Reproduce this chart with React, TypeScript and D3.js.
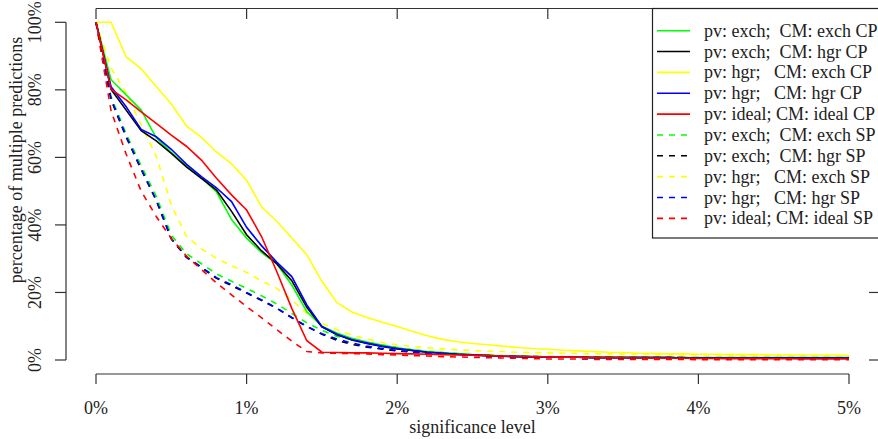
import React from 'react';
import * as d3 from 'd3';

// significance levels, in percent (0.1% steps)
const levels = d3.range(0, 51).map((i) => i / 10);

const exchExchCP = [100, 83, 78.5, 74, 65.8, 61.5, 57.5, 54, 49.8, 41.6, 36.1, 31.8, 28.5, 22.2, 14.3, 10, 8, 6.4, 5.3, 4.4, 3.6, 3.0, 2.5, 2.2, 1.9, 1.6, 1.4, 1.2, 1.1, 1.0, 0.9, 0.9, 0.8, 0.8, 0.8, 0.8, 0.8, 0.7, 0.7, 0.7, 0.7, 0.7, 0.7, 0.7, 0.7, 0.7, 0.7, 0.7, 0.7, 0.7, 0.7];
const exchHgrCP = [100, 80.1, 74, 67.9, 64.9, 61.2, 57.2, 53.8, 50.3, 44, 37.1, 32.3, 28.5, 23.5, 15.6, 9.8, 7.5, 5.9, 4.9, 4.0, 3.3, 2.8, 2.3, 2.0, 1.7, 1.5, 1.3, 1.1, 1.0, 0.9, 0.8, 0.8, 0.8, 0.7, 0.7, 0.7, 0.7, 0.7, 0.7, 0.6, 0.6, 0.6, 0.6, 0.6, 0.6, 0.6, 0.6, 0.6, 0.6, 0.6, 0.6];
const hgrExchCP = [100, 100, 89.8, 86.2, 81, 75.8, 69.3, 65.9, 61.6, 58.1, 53.2, 45.3, 41.1, 36.1, 31.2, 23.3, 17, 14.2, 12.6, 11.2, 9.9, 8.5, 7.2, 6.1, 5.4, 4.9, 4.5, 4.1, 3.7, 3.4, 3.2, 2.9, 2.7, 2.5, 2.3, 2.2, 2.0, 1.9, 1.8, 1.8, 1.7, 1.7, 1.6, 1.6, 1.6, 1.5, 1.5, 1.5, 1.5, 1.5, 1.4];
const hgrHgrCP = [100, 80.9, 75, 68.3, 66.1, 62.4, 58, 54.3, 51, 46.9, 39.3, 33.8, 29, 24.7, 16.3, 9.9, 7.6, 6.0, 5.0, 4.1, 3.4, 2.8, 2.3, 2.0, 1.7, 1.5, 1.3, 1.1, 1.0, 0.9, 0.8, 0.8, 0.8, 0.7, 0.7, 0.7, 0.7, 0.7, 0.7, 0.6, 0.6, 0.6, 0.6, 0.6, 0.6, 0.6, 0.6, 0.6, 0.6, 0.6, 0.6];
const idealIdealCP = [100, 80.2, 77, 73.5, 70.1, 66.6, 63.3, 59.2, 53.8, 48.9, 44.4, 36.5, 26.2, 15.3, 5.7, 2.3, 2.2, 2.1, 2.1, 2.0, 1.9, 1.8, 1.7, 1.6, 1.5, 1.4, 1.3, 1.2, 1.1, 1.0, 0.9, 0.85, 0.8, 0.75, 0.7, 0.65, 0.6, 0.55, 0.5, 0.5, 0.45, 0.45, 0.4, 0.4, 0.4, 0.35, 0.35, 0.3, 0.3, 0.3, 0.3];

const exchExchSP = [100, 78, 67, 57.5, 48.5, 37, 31.5, 28.5, 25.5, 23.3, 21.2, 19, 16.6, 13.8, 11, 8.8, 7.0, 6.0, 5.2, 4.4, 3.7, 3.1, 2.6, 2.2, 1.9, 1.6, 1.5, 1.3, 1.2, 1.1, 1.0, 1.0, 0.9, 0.9, 0.9, 0.8, 0.8, 0.8, 0.8, 0.8, 0.7, 0.7, 0.7, 0.7, 0.7, 0.7, 0.7, 0.7, 0.7, 0.7, 0.7];
const exchHgrSP = [100, 77, 66, 56.4, 47.2, 35.8, 30.4, 27.3, 24.2, 22, 19.8, 17.6, 15.3, 12.5, 9.9, 7.6, 5.8, 4.6, 3.8, 3.2, 2.7, 2.3, 2.0, 1.8, 1.6, 1.4, 1.3, 1.2, 1.1, 1.0, 0.9, 0.9, 0.8, 0.8, 0.8, 0.7, 0.7, 0.7, 0.7, 0.7, 0.6, 0.6, 0.6, 0.6, 0.6, 0.6, 0.6, 0.6, 0.6, 0.6, 0.6];
const hgrExchSP = [100, 86.5, 79, 69.6, 60.4, 45.9, 36.7, 32.9, 30.1, 27.9, 25.9, 23.4, 21.2, 17.8, 13.8, 10.8, 9.0, 7.4, 6.2, 5.2, 4.5, 4.0, 3.6, 3.3, 3.0, 2.8, 2.6, 2.5, 2.3, 2.2, 2.1, 2.0, 1.9, 1.8, 1.8, 1.7, 1.7, 1.6, 1.6, 1.5, 1.5, 1.5, 1.4, 1.4, 1.4, 1.3, 1.3, 1.3, 1.3, 1.2, 1.2];
const hgrHgrSP = [100, 77.3, 66.3, 56.6, 47.4, 36, 30.6, 27.5, 24.4, 22.3, 20, 17.8, 15.4, 12.6, 10.0, 7.8, 6.2, 5.0, 4.1, 3.4, 2.8, 2.4, 2.1, 1.8, 1.6, 1.4, 1.3, 1.2, 1.1, 1.0, 0.9, 0.9, 0.8, 0.8, 0.8, 0.7, 0.7, 0.7, 0.7, 0.7, 0.6, 0.6, 0.6, 0.6, 0.6, 0.6, 0.6, 0.6, 0.6, 0.6, 0.6];
const idealIdealSP = [100, 73.8, 61, 50, 42.5, 36, 30.8, 26.8, 22.8, 19.3, 15.8, 12.5, 9, 5.6, 2.5, 2.1, 2.0, 1.9, 1.8, 1.6, 1.5, 1.3, 1.2, 1.0, 0.9, 0.8, 0.7, 0.6, 0.5, 0.4, 0.3, 0.3, 0.3, 0.2, 0.2, 0.2, 0.2, 0.2, 0.2, 0.2, 0.1, 0.1, 0.1, 0.1, 0.1, 0.1, 0.1, 0.1, 0.1, 0.1, 0.1];

const seriesNames = [
  'pv: exch;  CM: exch CP',
  'pv: exch;  CM: hgr CP',
  'pv: hgr;   CM: exch CP',
  'pv: hgr;   CM: hgr CP',
  'pv: ideal; CM: ideal CP',
  'pv: exch;  CM: exch SP',
  'pv: exch;  CM: hgr SP',
  'pv: hgr;   CM: exch SP',
  'pv: hgr;   CM: hgr SP',
  'pv: ideal; CM: ideal SP',
];
const seriesValues = [
  exchExchCP, exchHgrCP, hgrExchCP, hgrHgrCP, idealIdealCP,
  exchExchSP, exchHgrSP, hgrExchSP, hgrHgrSP, idealIdealSP,
];
const seriesColors = ['#00ff00', '#000000', '#ffff00', '#0000ff', '#ff0000', '#00ff00', '#000000', '#ffff00', '#0000ff', '#ff0000'];

const xTicks = [0, 1, 2, 3, 4, 5];
const yTicks = [0, 20, 40, 60, 80, 100];

const W = 878, H = 439;
const font = 'Liberation Serif, Times New Roman, serif';
const fs = 18;

export default function App() {
  const x = d3.scaleLinear().domain([0, 5]).range([96, 849]);
  const y = d3.scaleLinear().domain([0, 100]).range([360, 22.3]);

  const line = d3.line<number>()
    .x((d, i) => x(levels[i]))
    .y((d) => y(d));

  // dashed first, solid on top
  const order = [5, 6, 7, 8, 9, 0, 1, 2, 3, 4];

  const axisColor = '#333';

  return (
    <svg width={W} height={H} style={{ position: 'absolute', left: 0, top: 0 }}>
      <rect width={W} height={H} fill="#fff" />

      {/* top border with inward ticks */}
      <line x1={x(0)} x2={W} y1={8.5} y2={8.5} stroke={axisColor} strokeWidth={1.2} />
      {xTicks.map((t) => (
        <line key={'tt' + t} x1={x(t)} x2={x(t)} y1={8.5} y2={19} stroke={axisColor} strokeWidth={1.2} />
      ))}

      {/* right side ticks */}
      {yTicks.map((t) => (
        <line key={'rt' + t} x1={869} x2={W} y1={y(t)} y2={y(t)} stroke={axisColor} strokeWidth={1.2} />
      ))}

      {/* curves */}
      {order.map((k) => (
        <path
          key={k}
          d={line(seriesValues[k]) || ''}
          fill="none"
          stroke={seriesColors[k]}
          strokeWidth={1.6}
          strokeDasharray={k >= 5 ? '6,6' : undefined}
        />
      ))}

      {/* left axis */}
      <line x1={66} x2={66} y1={y(0)} y2={y(100)} stroke={axisColor} strokeWidth={1.2} />
      {yTicks.map((t) => (
        <g key={'yt' + t}>
          <line x1={55} x2={66} y1={y(t)} y2={y(t)} stroke={axisColor} strokeWidth={1.2} />
          <text
            transform={`translate(41,${y(t)}) rotate(-90)`}
            textAnchor="middle"
            fontFamily={font}
            fontSize={fs}
            fill="#222"
          >
            {t + '%'}
          </text>
        </g>
      ))}
      <text transform="translate(22,160) rotate(-90)" textAnchor="middle" fontFamily={font} fontSize={fs} fill="#222">
        percentage of multiple predictions
      </text>

      {/* bottom axis */}
      <line x1={x(0)} x2={x(5)} y1={374} y2={374} stroke={axisColor} strokeWidth={1.2} />
      {xTicks.map((t) => (
        <g key={'xt' + t}>
          <line x1={x(t)} x2={x(t)} y1={374} y2={384} stroke={axisColor} strokeWidth={1.2} />
          <text x={x(t)} y={414} textAnchor="middle" fontFamily={font} fontSize={fs} fill="#222">
            {t + '%'}
          </text>
        </g>
      ))}
      <text x={(x(0) + x(5)) / 2} y={433} textAnchor="middle" fontFamily={font} fontSize={fs} fill="#222">
        significance level
      </text>

      {/* legend */}
      <rect x={652.5} y={8.5} width={240} height={229.5} fill="#fff" stroke="#222" strokeWidth={1.2} />
      {seriesNames.map((name, i) => {
        const ly = 30.7 + i * 20.85;
        return (
          <g key={'lg' + i}>
            <line
              x1={657}
              x2={690}
              y1={ly}
              y2={ly}
              stroke={seriesColors[i]}
              strokeWidth={1.6}
              strokeDasharray={i >= 5 ? '6,6' : undefined}
            />
            <text x={704} y={ly + 6} fontFamily={font} fontSize={fs} fill="#222" style={{ whiteSpace: 'pre' }}>
              {name}
            </text>
          </g>
        );
      })}
    </svg>
  );
}
